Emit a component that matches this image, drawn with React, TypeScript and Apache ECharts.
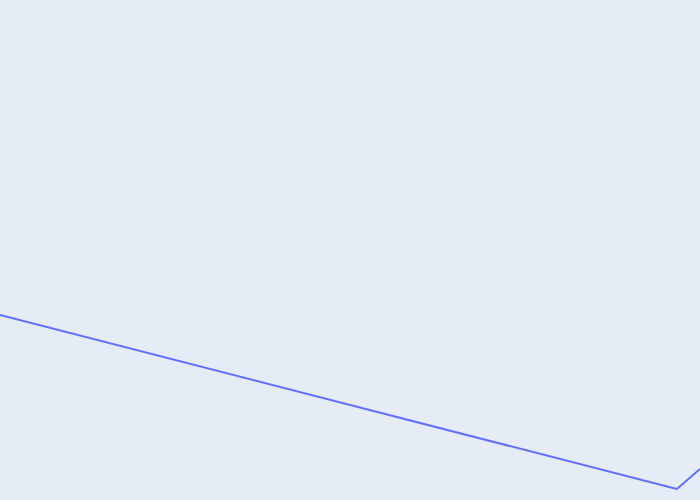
import { useEffect, useRef } from 'react';
import * as echarts from 'echarts';

// x / y values (axis range 0..10 both ways)
const xValues = [0, 9.67, 10];
const yValues = [3.7, 0.22, 0.62];

const App = () => {
    const chartRef = useRef<HTMLDivElement | null>(null);

    useEffect(() => {
        document.body.style.margin = '0';
        if (chartRef.current) {
            const myChart = echarts.init(chartRef.current, null, { renderer: 'svg' });

            const option = {
                animation: false,
                backgroundColor: '#E5ECF6',
                grid: { left: 0, right: 0, top: 0, bottom: 0, containLabel: false },
                xAxis: {
                    type: 'value',
                    min: 0,
                    max: 10,
                    axisLine: { show: false },
                    axisTick: { show: false },
                    axisLabel: { show: false },
                    splitLine: { show: false }
                },
                yAxis: {
                    type: 'value',
                    min: 0,
                    max: 10,
                    axisLine: { show: false },
                    axisTick: { show: false },
                    axisLabel: { show: false },
                    splitLine: { show: false }
                },
                series: [
                    {
                        type: 'line',
                        data: xValues.map((x, i) => [x, yValues[i]]),
                        showSymbol: false,
                        clip: true,
                        lineStyle: { color: '#636EFA', width: 2 }
                    }
                ]
            };

            myChart.setOption(option);

            return () => {
                myChart.dispose();
            };
        }
    }, []);

    return <div ref={chartRef} style={{ width: '700px', height: '500px' }} />;
};

export default App;
